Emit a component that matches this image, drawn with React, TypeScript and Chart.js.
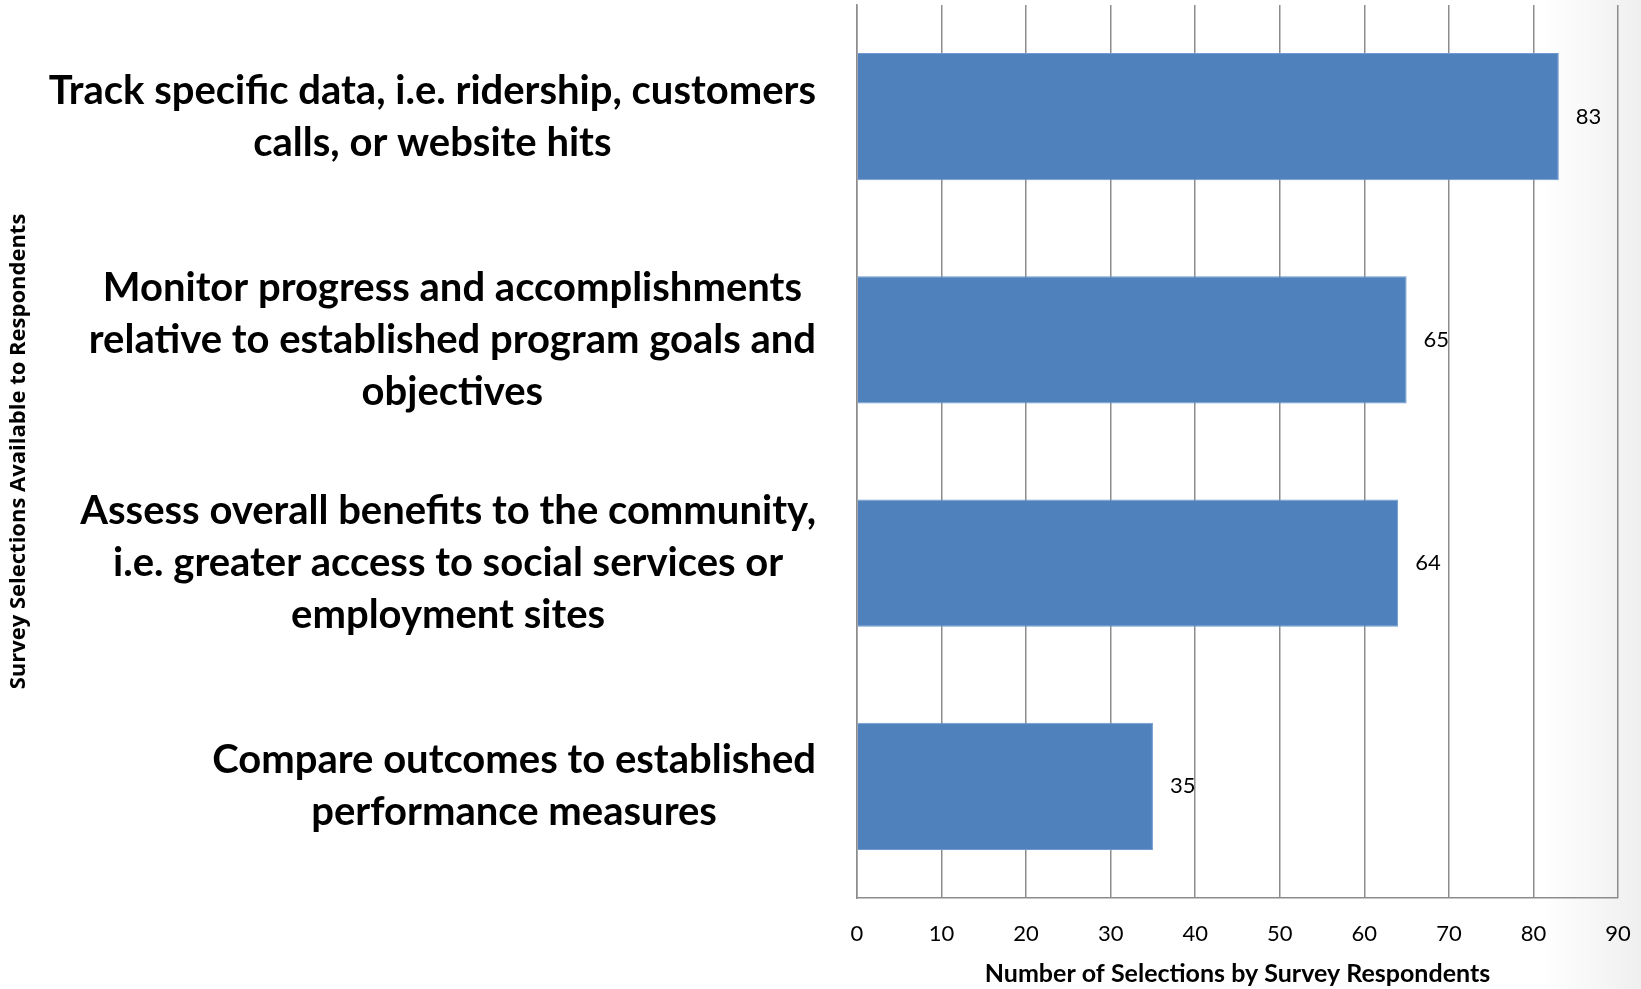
import React, { useEffect, useRef } from 'react';
import { Chart, registerables } from 'chart.js';

Chart.register(...registerables);

const categories: string[][] = [
  ['Track specific data, i.e. ridership, customers', 'calls, or website hits'],
  ['Monitor progress and accomplishments', 'relative to established program goals and', 'objectives'],
  ['Assess overall benefits to the community,', 'i.e. greater access to social services or', 'employment sites'],
  ['Compare outcomes to established', 'performance measures'],
];
const values: number[] = [83, 65, 64, 35];
const xTickValues: number[] = [0, 10, 20, 30, 40, 50, 60, 70, 80, 90];
const xTitle = 'Number of Selections by Survey Respondents';
const yTitle = 'Survey Selections Available to Respondents';

const W = 1641;
const H = 989;
const LABEL_FONT = 'bold 40px Lato';
const LABEL_LINE = 52;

const categoryLabelPlugin = {
  id: 'categoryLabels',
  afterDraw(chart: any) {
    const ctx = chart.ctx as CanvasRenderingContext2D;
    const yScale = chart.scales.y;
    const right = chart.chartArea.left - 41;
    ctx.save();
    ctx.font = LABEL_FONT;
    ctx.fillStyle = '#000';
    ctx.textBaseline = 'middle';
    ctx.textAlign = 'center';
    categories.forEach((lines, i) => {
      const y = yScale.getPixelForValue(i);
      const widest = Math.max(...lines.map((l) => ctx.measureText(l).width));
      const cx = right - widest / 2;
      lines.forEach((line, j) => {
        ctx.fillText(line, cx, y + (j - (lines.length - 1) / 2) * LABEL_LINE);
      });
    });
    ctx.restore();
  },
};

const valueLabelPlugin = {
  id: 'valueLabels',
  afterDatasetsDraw(chart: any) {
    const ctx = chart.ctx as CanvasRenderingContext2D;
    const meta = chart.getDatasetMeta(0);
    ctx.save();
    ctx.font = '22px Lato';
    ctx.fillStyle = '#000';
    ctx.textBaseline = 'middle';
    ctx.textAlign = 'left';
    meta.data.forEach((bar: any, i: number) => {
      ctx.fillText(String(values[i]), bar.x + 17, bar.y);
    });
    ctx.restore();
  },
};

export default function App() {
  const ref = useRef<HTMLCanvasElement | null>(null);

  useEffect(() => {
    if (!ref.current) return;
    const chart = new Chart(ref.current, {
      type: 'bar',
      data: {
        labels: categories.map((c) => c.join(' ')),
        datasets: [
          {
            data: values,
            backgroundColor: '#4F81BD',
            borderColor: '#6F9AD0',
            borderWidth: 1,
            categoryPercentage: 1,
            barPercentage: 0.571,
          },
        ],
      },
      options: {
        indexAxis: 'y',
        responsive: false,
        animation: false,
        layout: { padding: { top: 5, right: 23, left: 0, bottom: 0 } },
        plugins: {
          legend: { display: false },
          tooltip: { enabled: false },
        },
        scales: {
          x: {
            type: 'linear',
            min: 0,
            max: 90,
            afterBuildTicks: (scale: any) => {
              scale.ticks = xTickValues.map((v) => ({ value: v }));
            },
            afterFit: (scale: any) => {
              scale.height = 91;
              scale.paddingLeft = 0;
              scale.paddingRight = 0;
            },
            grid: {
              color: '#8c8c8c',
              lineWidth: 1.5,
              drawTicks: false,
            },
            border: { display: true, color: '#8c8c8c', width: 1.5 },
            ticks: {
              padding: 23,
              color: '#000',
              font: { family: 'Lato', size: 22 },
            },
            title: {
              display: true,
              text: xTitle,
              color: '#000',
              font: { family: 'Lato', size: 25, weight: 'bold' },
              padding: { top: 0, bottom: 0 },
            },
          },
          y: {
            type: 'category',
            grid: { display: false, drawTicks: false },
            border: { display: true, color: '#8c8c8c', width: 1.5 },
            ticks: { display: false },
            afterFit: (scale: any) => {
              scale.width = 857;
            },
            title: {
              display: true,
              text: yTitle,
              color: '#000',
              font: { family: 'Open Sans', size: 22, weight: 'bold' },
              padding: { top: 6, bottom: 0 },
            },
          },
        },
      },
      plugins: [categoryLabelPlugin, valueLabelPlugin],
    } as any);
    return () => chart.destroy();
  }, []);

  return (
    <div
      style={{
        position: 'fixed',
        left: 0,
        top: 0,
        width: W,
        height: H,
        background: 'linear-gradient(to right, #ffffff 0%, #ffffff 94%, #efefef 100%)',
      }}
    >
      <canvas ref={ref} width={W} height={H} style={{ width: W, height: H, display: 'block' }} />
    </div>
  );
}
